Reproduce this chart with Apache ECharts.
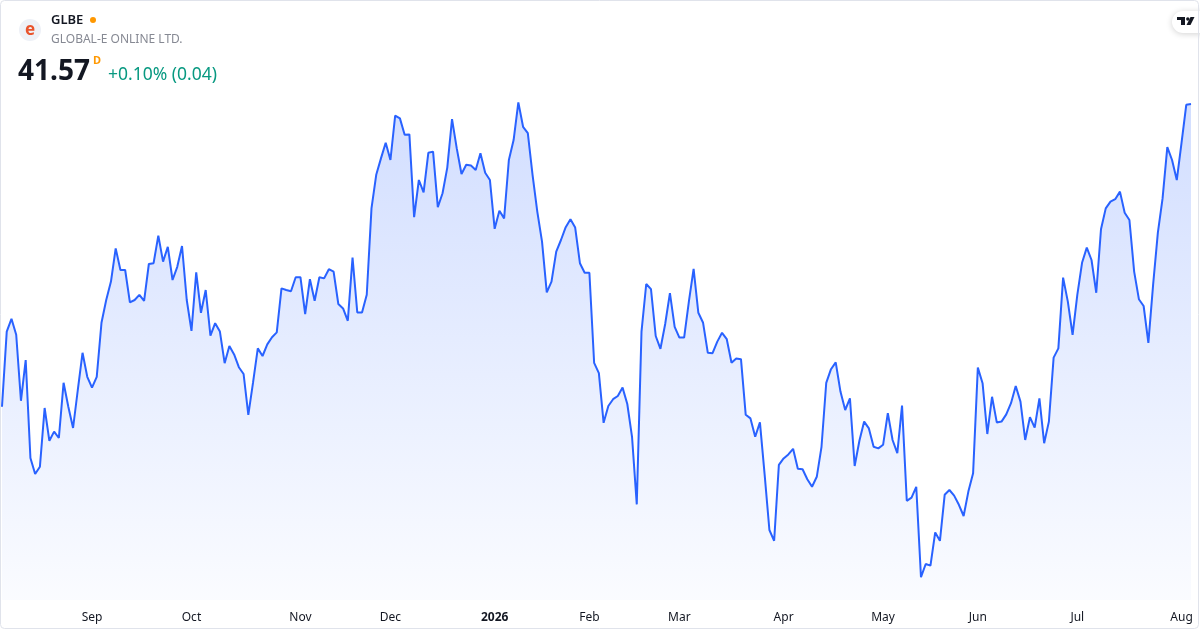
<!DOCTYPE html>
<html>
<head>
<meta charset="utf-8">
<script src="https://cdn.jsdelivr.net/npm/echarts@6/dist/echarts.min.js"></script>
<style>
html,body{margin:0;padding:0;background:#fff;}
#chart{width:1200px;height:630px;}
</style>
</head>
<body>
<div id="chart"></div>
<script>
// Trading-day calendar (NYSE) used for the category axis
const startDate = '2025-08-05';
const endDate = '2026-08-05';
const holidays = ['2025-09-01','2025-11-27','2025-12-25','2026-01-01','2026-01-19','2026-02-16','2026-04-03','2026-05-25','2026-06-19','2026-07-03'];
const monthNames = ['Jan','Feb','Mar','Apr','May','Jun','Jul','Aug','Sep','Oct','Nov','Dec'];

// Daily closing prices
const closes = [
34.00,35.88,36.20,35.80,34.15,35.17,32.72,32.32,32.50,33.97,
33.15,33.38,33.22,34.60,34.00,33.47,34.42,35.35,34.75,34.48,
34.75,36.10,36.67,37.13,37.96,37.42,37.42,36.61,36.67,36.80,
36.65,37.57,37.59,38.28,37.63,38.00,37.17,37.50,38.02,36.67,
35.90,37.36,36.35,36.92,35.78,36.09,35.88,35.09,35.52,35.31,
34.99,34.82,33.80,34.61,35.46,35.27,35.56,35.74,35.86,36.96,
36.92,36.89,37.24,37.24,36.32,37.19,36.65,37.24,37.21,37.44,
37.38,36.57,36.46,36.15,37.73,36.36,36.36,36.80,38.96,39.80,
40.21,40.60,40.17,41.28,41.21,40.80,40.81,38.74,39.67,39.36,
40.35,40.38,38.99,39.34,39.98,41.19,40.46,39.82,40.05,40.03,
39.92,40.34,39.85,39.67,38.45,38.90,38.71,40.17,40.67,41.61,
41.00,40.84,39.80,38.88,38.13,36.86,37.13,37.88,38.17,38.49,
38.69,38.48,37.59,37.35,37.35,35.10,34.84,33.60,34.02,34.19,
34.27,34.48,34.07,33.25,31.56,35.88,37.07,36.94,35.77,35.45,
36.07,36.84,36.00,35.73,35.73,36.63,37.45,36.35,36.10,35.35,
35.34,35.63,35.85,35.69,35.10,35.21,35.19,33.80,33.71,33.25,
33.61,32.30,30.92,30.65,32.55,32.71,32.81,32.95,32.45,32.44,
32.19,32.00,32.25,33.00,34.60,34.94,35.11,34.38,33.92,34.21,
32.52,33.15,33.63,33.46,33.00,32.96,33.05,33.84,33.17,32.84,
34.03,31.65,31.73,32.00,29.74,30.07,30.03,30.86,30.65,31.80,
31.92,31.78,31.55,31.27,31.88,32.34,34.98,34.59,33.32,34.25,
33.61,33.63,33.81,34.09,34.52,34.13,33.17,33.74,33.48,34.21,
33.09,33.63,35.23,35.46,37.23,36.63,35.80,36.80,37.60,37.98,
37.67,36.85,38.44,38.96,39.13,39.19,39.38,38.85,38.67,37.38,
36.69,36.52,35.60,37.05,38.35,39.21,40.49,40.17,39.67,40.60,
41.55,41.57
];

const symbol = 'GLBE';
const companyName = 'GLOBAL-E ONLINE LTD.';
const lastPrice = '41.57';
const changeText = '+0.10% (0.04)';

function pad(n){return n<10?'0'+n:''+n;}
function buildDates(){
  const out=[];
  const d=new Date(startDate+'T12:00:00Z');
  const end=new Date(endDate+'T12:00:00Z');
  while(d<=end){
    const day=d.getUTCDay();
    const s=d.getUTCFullYear()+'-'+pad(d.getUTCMonth()+1)+'-'+pad(d.getUTCDate());
    if(day!==0&&day!==6&&holidays.indexOf(s)<0) out.push(s);
    d.setUTCDate(d.getUTCDate()+1);
  }
  return out;
}
const dates = buildDates();

const FONT = '"Noto Sans", "Open Sans", sans-serif';
const chart = echarts.init(document.getElementById('chart'));
chart.setOption({
  animation:false,
  backgroundColor:'#ffffff',
  grid:{left:2,right:9,top:60,bottom:30,containLabel:false},
  xAxis:{
    type:'category',
    data:dates,
    boundaryGap:false,
    axisLine:{show:false},
    axisTick:{show:false},
    splitLine:{show:false},
    axisLabel:{
      margin:12,
      color:'#131722',
      fontSize:12,
      fontFamily:FONT,
      interval:function(i){
        return i>0 && dates[i].slice(0,7)!==dates[i-1].slice(0,7);
      },
      formatter:function(v){
        const m=parseInt(v.slice(5,7),10);
        if(m===1) return '{b|'+v.slice(0,4)+'}';
        return monthNames[m-1];
      },
      rich:{b:{fontWeight:'bold',fontSize:12,color:'#131722',fontFamily:FONT}}
    }
  },
  yAxis:{
    type:'value',
    min:29.17,
    max:42.67,
    show:false,
    splitLine:{show:false}
  },
  series:[{
    type:'line',
    data:closes,
    showSymbol:false,
    symbol:'none',
    lineStyle:{color:'#2962ff',width:2},
    itemStyle:{color:'#2962ff'},
    areaStyle:{
      color:new echarts.graphic.LinearGradient(0,0,0,1,[
        {offset:0,color:'rgba(41,98,255,0.30)'},
        {offset:1,color:'rgba(41,98,255,0.03)'}
      ])
    }
  }],
  graphic:[
    {type:'rect',silent:true,shape:{x:0.5,y:0.5,width:1198,height:628,r:4},style:{fill:'none',stroke:'#e0e3eb',lineWidth:1},z:100},
    {type:'circle',shape:{cx:30,cy:30,r:11},style:{fill:'#eef1f7'}},
    {type:'text',x:30,y:30,style:{text:'e',fill:'#e9542d',font:'bold 17px '+FONT,align:'center',verticalAlign:'middle'}},
    {type:'text',x:51,y:20,style:{text:symbol,fill:'#131722',font:'600 13px '+FONT,verticalAlign:'middle'}},
    {type:'circle',shape:{cx:93,cy:20,r:3},style:{fill:'#ff9800'}},
    {type:'text',x:51,y:40,style:{text:companyName,fill:'#868993',font:'12px '+FONT,verticalAlign:'middle'}},
    {type:'text',x:18,y:72,style:{text:lastPrice,fill:'#131722',font:'bold 28px '+FONT,verticalAlign:'middle'}},
    {type:'text',x:93,y:61,style:{text:'D',fill:'#ff9800',font:'bold 11px '+FONT,verticalAlign:'middle'}},
    {type:'text',x:108,y:75,style:{text:changeText,fill:'#089981',font:'17.5px '+FONT,verticalAlign:'middle'}},
    {type:'rect',shape:{x:1172,y:11,width:40,height:22,r:11},style:{fill:'#ffffff',shadowBlur:6,shadowColor:'rgba(0,0,0,0.18)',shadowOffsetY:1}},
    {type:'rect',shape:{x:1177,y:17,width:8,height:3},style:{fill:'#131722'}},
    {type:'rect',shape:{x:1181,y:17,width:4,height:8},style:{fill:'#131722'}},
    {type:'circle',shape:{cx:1187.8,cy:19,r:1.7},style:{fill:'#131722'}},
    {type:'polygon',shape:{points:[[1190.5,17],[1194.5,17],[1190.5,25],[1186.5,25]]},style:{fill:'#131722'}}
  ]
});
</script>
</body>
</html>
